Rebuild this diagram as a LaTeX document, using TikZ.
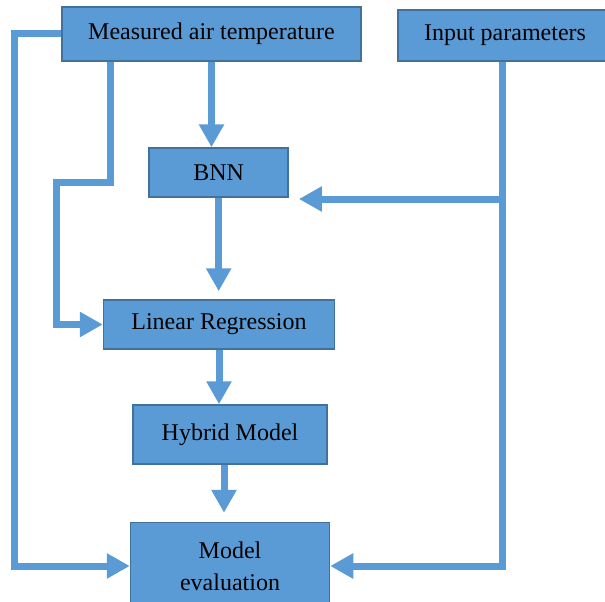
\documentclass[tikz,border=0pt]{standalone}
\usepackage{fontspec}
\setmainfont{Liberation Serif}
\usepackage{xcolor}
\usetikzlibrary{arrows.meta}
\definecolor{boxblue}{HTML}{5B9BD5}
\definecolor{edgeblue}{HTML}{41719C}

\begin{document}
\begin{tikzpicture}[x=1pt,y=-1pt,
  blk/.style={draw=edgeblue,line width=1.5pt,fill=boxblue,inner sep=0pt,
    font=\fontsize{24}{32}\selectfont,align=center},
  flow/.style={draw=boxblue,line width=7pt,
    -{Triangle[length=23pt,width=24pt]}}]
\useasboundingbox (0,0) rectangle (605,602);
\clip (0,0) rectangle (605,602);

\node[blk,minimum width=299pt,minimum height=54pt] (mat) at (211.5,34) {Measured air temperature};
\node[blk,minimum width=214pt,minimum height=51pt] (inp) at (505,35.5) {Input parameters};
\node[blk,minimum width=139pt,minimum height=49pt] (bnn) at (218.7,172.5) {BNN};
\node[blk,minimum width=231pt,minimum height=49pt] (lr) at (219,324.5) {Linear Regression};
\node[blk,minimum width=194pt,minimum height=59pt] (hyb) at (230,434.5) {Hybrid Model};
\node[blk,minimum width=199pt,minimum height=87pt] (eval) at (230,566) {Model\\evaluation};

\coordinate (k1) at (56.5,182);
\coordinate (k2) at (14,34);
\coordinate (k3) at (502,199);

% main chain
\draw[flow] (mat.south) -- (mat.south |- bnn.north);
\draw[flow,shorten >=8pt] (bnn.south) -- (bnn.south |- lr.north);
\draw[flow] (lr.south) -- (lr.south |- hyb.north);
\draw[flow,shorten >=9pt] ([xshift=-6pt]hyb.south) -- ([xshift=-6pt]hyb.south |- eval.north);

% side paths
\draw[flow] ([xshift=-101.5pt]mat.south) |- (k1) |- (lr.west);
\draw[flow] (mat.west) -- (k2) |- (eval.west);
\draw[flow] ([xshift=-3pt]inp.south) |- (eval.east);
\draw[flow,shorten >=10pt] (k3) -- (k3 -| bnn.east);
\end{tikzpicture}
\end{document}
